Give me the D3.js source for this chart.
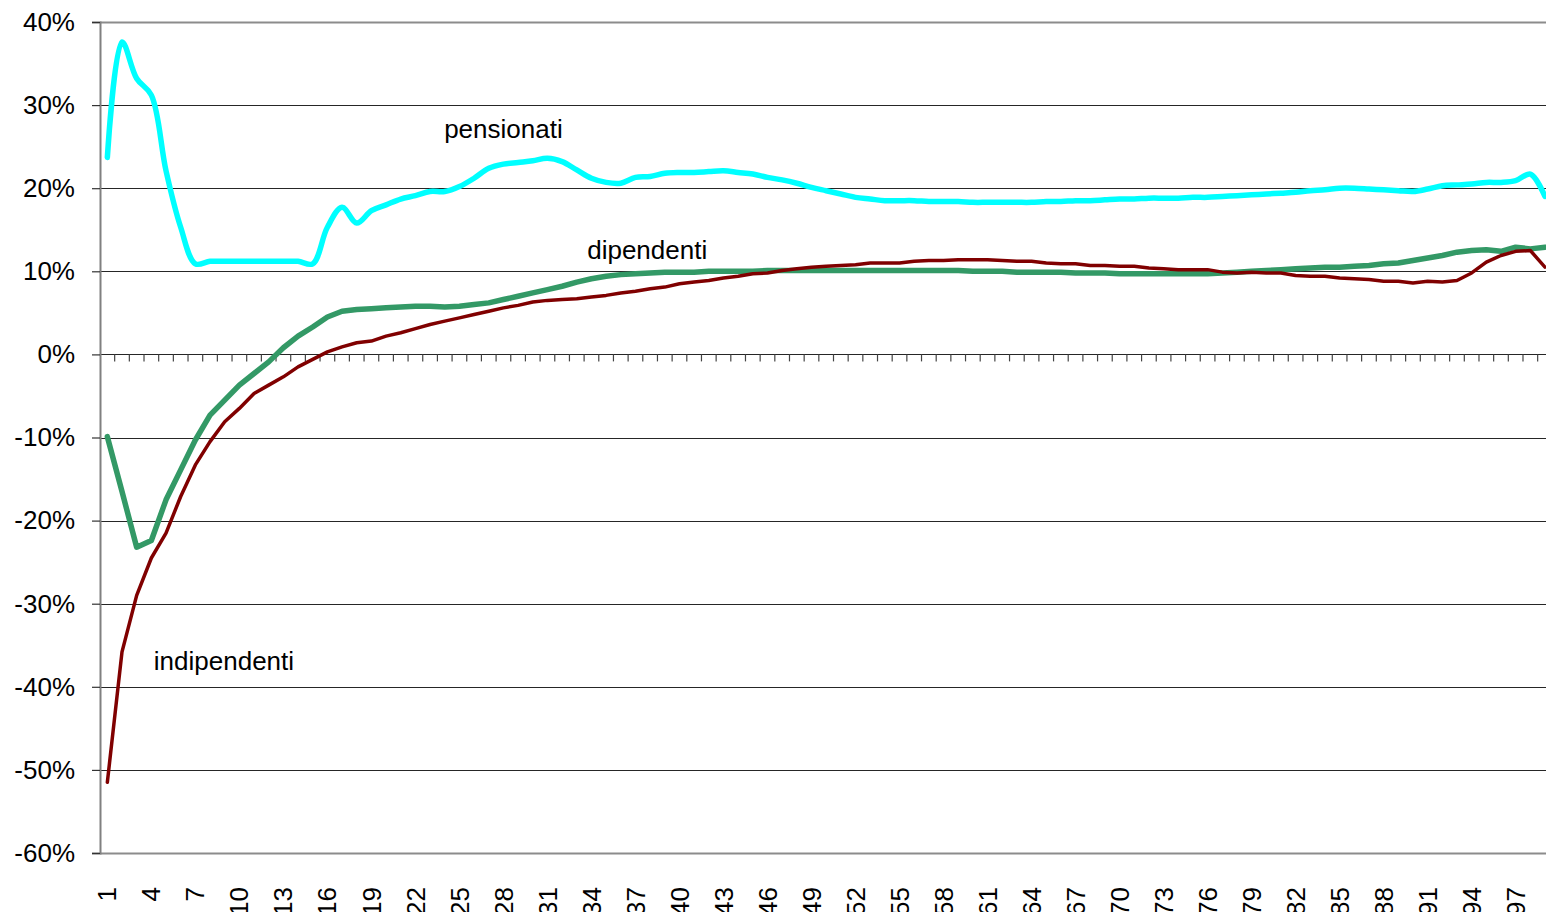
<!DOCTYPE html>
<html>
<head>
<meta charset="utf-8">
<script src="https://cdn.jsdelivr.net/npm/d3@7"></script>
<style>
  html, body { margin: 0; padding: 0; background: #fff; overflow: hidden; }
  svg { display: block; font-family: "Liberation Sans", Arial, sans-serif; }
</style>
</head>
<body>
<svg id="chart" width="1546" height="912"></svg>
<script>
// ---- data ----
const categories = d3.range(1, 100); // 1..99 (age classes)
const yTickValues = [-60, -50, -40, -30, -20, -10, 0, 10, 20, 30, 40];
const xLabelValues = categories.filter(c => (c - 1) % 3 === 0);

const pensionati = [
  23.7, 37.6, 33.2, 31.2, 22.1, 15.3, 10.9, 11.2, 11.2, 11.2,
  11.2, 11.2, 11.2, 11.2, 10.9, 15.3, 17.7, 15.8, 17.3, 18.0,
  18.7, 19.1, 19.6, 19.6, 20.2, 21.2, 22.4, 22.9, 23.1, 23.3,
  23.6, 23.2, 22.2, 21.2, 20.7, 20.6, 21.3, 21.4, 21.8, 21.9,
  21.9, 22.0, 22.1, 21.9, 21.7, 21.3, 21.0, 20.6, 20.1, 19.7,
  19.3, 18.9, 18.7, 18.5, 18.5, 18.5, 18.4, 18.4, 18.4, 18.3,
  18.3, 18.3, 18.3, 18.3, 18.4, 18.4, 18.5, 18.5, 18.6, 18.7,
  18.7, 18.8, 18.8, 18.8, 18.9, 18.9, 19.0, 19.1, 19.2, 19.3,
  19.4, 19.5, 19.7, 19.8, 20.0, 20.0, 19.9, 19.8, 19.7, 19.6,
  19.9, 20.3, 20.4, 20.5, 20.7, 20.7, 20.9, 21.7, 19.0
];
const dipendenti = [
  -9.9, -16.5, -23.2, -22.4, -17.5, -13.9, -10.3, -7.3, -5.5, -3.7,
  -2.3, -0.9, 0.8, 2.2, 3.3, 4.5, 5.2, 5.4, 5.5, 5.6,
  5.7, 5.8, 5.8, 5.7, 5.8, 6.0, 6.2, 6.6, 7.0, 7.4,
  7.8, 8.2, 8.7, 9.1, 9.4, 9.6, 9.7, 9.8, 9.9, 9.9,
  9.9, 10.0, 10.0, 10.0, 10.0, 10.1, 10.1, 10.1, 10.1, 10.1,
  10.1, 10.1, 10.1, 10.1, 10.1, 10.1, 10.1, 10.1, 10.1, 10.0,
  10.0, 10.0, 9.9, 9.9, 9.9, 9.9, 9.8, 9.8, 9.8, 9.7,
  9.7, 9.7, 9.7, 9.7, 9.7, 9.7, 9.8, 9.9, 10.0, 10.1,
  10.2, 10.3, 10.4, 10.5, 10.5, 10.6, 10.7, 10.9, 11.0, 11.3,
  11.6, 11.9, 12.3, 12.5, 12.6, 12.4, 12.9, 12.7, 12.9
];
const indipendenti = [
  -51.5, -35.8, -29.0, -24.5, -21.5, -17.1, -13.3, -10.5, -8.1, -6.5,
  -4.7, -3.7, -2.7, -1.5, -0.6, 0.3, 0.9, 1.4, 1.6, 2.2,
  2.6, 3.1, 3.6, 4.0, 4.4, 4.8, 5.2, 5.6, 5.9, 6.3,
  6.5, 6.6, 6.7, 6.9, 7.1, 7.4, 7.6, 7.9, 8.1, 8.5,
  8.7, 8.9, 9.2, 9.4, 9.7, 9.8, 10.1, 10.3, 10.5, 10.6,
  10.7, 10.8, 11.0, 11.0, 11.0, 11.2, 11.3, 11.3, 11.4, 11.4,
  11.4, 11.3, 11.2, 11.2, 11.0, 10.9, 10.9, 10.7, 10.7, 10.6,
  10.6, 10.4, 10.3, 10.2, 10.2, 10.2, 9.9, 9.8, 9.9, 9.8,
  9.8, 9.5, 9.4, 9.4, 9.2, 9.1, 9.0, 8.8, 8.8, 8.6,
  8.8, 8.7, 8.9, 9.8, 11.1, 11.9, 12.4, 12.5, 10.5
];
const seriesNames = ["pensionati", "dipendenti", "indipendenti"];

// ---- layout ----
const svg = d3.select("#chart");
const plotLeft = 100, plotTop = 22, plotBottom = 853;
const band = 14.67;
const x = d3.scaleBand().domain(categories).range([plotLeft, plotLeft + band * categories.length]).padding(0);
const xc = c => x(c) + x.bandwidth() / 2;
const xv = v => plotLeft + (v - 0.5) * x.bandwidth(); // continuous category position
const y = d3.scaleLinear().domain([-60, 40]).range([plotBottom, plotTop]);
const W = 1546;

// gridlines
svg.append("g").selectAll("line").data(yTickValues).join("line")
  .attr("x1", plotLeft).attr("x2", W + 10)
  .attr("y1", d => Math.round(y(d)) + 0.5).attr("y2", d => Math.round(y(d)) + 0.5)
  .attr("stroke", d => (d === 40 || d === -60) ? "#8c8c8c" : "#262626")
  .attr("stroke-width", d => (d === 40 || d === -60) ? 2 : 1);

// y axis
const yAxis = svg.append("g").attr("transform", `translate(${plotLeft},0)`)
  .call(d3.axisLeft(y).tickValues(yTickValues).tickFormat(d => d + "%").tickSize(8).tickPadding(17));
yAxis.select(".domain").attr("stroke", "#808080").attr("stroke-width", 2);
yAxis.selectAll(".tick line").attr("stroke", "#333").attr("stroke-width", 1.2);
yAxis.selectAll(".tick text").attr("font-size", 26).attr("fill", "#000")
  .attr("font-family", "'Liberation Sans', Arial, sans-serif");

// x ticks on the zero line at category boundaries
svg.append("g").selectAll("line").data(categories.slice(1)).join("line")
  .attr("x1", d => x(d)).attr("x2", d => x(d))
  .attr("y1", y(0)).attr("y2", y(0) + 7)
  .attr("stroke", "#444").attr("stroke-width", 1.2);

// x labels (rotated)
const xAxis = svg.append("g").attr("transform", `translate(0,${plotBottom})`)
  .call(d3.axisBottom(x).tickValues(xLabelValues).tickSize(0));
xAxis.select(".domain").remove();
xAxis.selectAll(".tick text")
  .attr("transform", "rotate(-90)")
  .attr("x", -34).attr("y", 0).attr("dy", "0.35em")
  .attr("text-anchor", "end")
  .attr("font-size", 26).attr("fill", "#000")
  .attr("font-family", "'Liberation Sans', Arial, sans-serif");

// lines
const lineStraight = d3.line().x((d, i) => xc(categories[i])).y(d => y(d));
const lineSmooth = d3.line().x((d, i) => xc(categories[i])).y(d => y(d)).curve(d3.curveCatmullRom.alpha(0.5));

svg.append("path").datum(dipendenti).attr("d", lineStraight)
  .attr("fill", "none").attr("stroke", "#339966").attr("stroke-width", 5.5)
  .attr("stroke-linejoin", "round").attr("stroke-linecap", "round");
svg.append("path").datum(indipendenti).attr("d", lineStraight)
  .attr("fill", "none").attr("stroke", "#800000").attr("stroke-width", 3.5)
  .attr("stroke-linejoin", "round").attr("stroke-linecap", "round");
svg.append("path").datum(pensionati).attr("d", lineSmooth)
  .attr("fill", "none").attr("stroke", "#00FFFF").attr("stroke-width", 5.5)
  .attr("stroke-linejoin", "round").attr("stroke-linecap", "round");

// series labels
const labelPos = [
  { name: seriesNames[0], cx: 28, v: 26 },
  { name: seriesNames[1], cx: 37.8, v: 11.5 },
  { name: seriesNames[2], cx: 8.95, v: -38 }
];
svg.append("g").selectAll("text").data(labelPos).join("text")
  .attr("x", d => xv(d.cx)).attr("y", d => y(d.v))
  .attr("text-anchor", "middle").attr("font-size", 26).attr("fill", "#000")
  .text(d => d.name);
</script>
</body>
</html>
